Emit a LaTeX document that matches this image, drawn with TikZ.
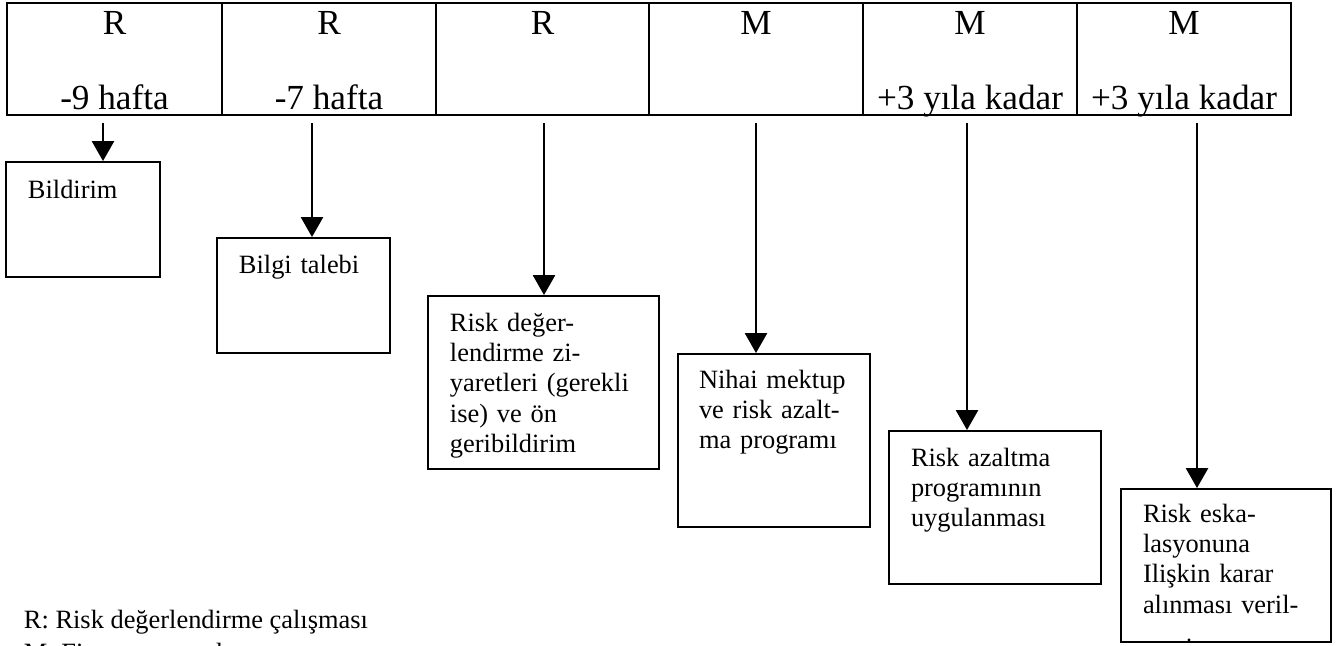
\documentclass[tikz,border=0pt]{standalone}
\usepackage{fontspec}
\setmainfont{Liberation Serif}
\usetikzlibrary{arrows.meta,fit}
\begin{document}
\begin{tikzpicture}[x=0.4545pt,y=-0.4545pt,
  line width=0.9pt,
  cellbox/.style={draw,inner sep=0pt,line width=1pt},
  stepbox/.style={draw,inner sep=0pt},
  headtxt/.style={anchor=base,inner sep=0pt,font=\fontsize{16}{18}\selectfont},
  boxtxt/.style={anchor=base west,inner sep=0pt,align=left,text width=110pt,font=\fontsize{12}{13.8}\selectfont},
  legtxt/.style={anchor=base west,inner sep=0pt,font=\fontsize{12}{13.8}\selectfont},
  arr/.style={-{Triangle[width=10pt,length=9pt]}}]
\useasboundingbox (0,0) rectangle (1343,645);

% table cells
\node[cellbox,fit={(7,3) (222,115)}] (c1) {};
\node[cellbox,fit={(222,3) (436,115)}] (c2) {};
\node[cellbox,fit={(436,3) (649,115)}] (c3) {};
\node[cellbox,fit={(649,3) (863,115)}] (c4) {};
\node[cellbox,fit={(863,3) (1077,115)}] (c5) {};
\node[cellbox,fit={(1077,3) (1291,115)}] (c6) {};

\node[headtxt] (h1) at (114.5,34) {R};
\node[headtxt] (h2) at (329,34) {R};
\node[headtxt] (h3) at (542.5,34) {R};
\node[headtxt] (h4) at (756,34) {M};
\node[headtxt] (h5) at (970,34) {M};
\node[headtxt] (h6) at (1184,34) {M};
\node[headtxt] (w1) at (114.5,109) {-9 hafta};
\node[headtxt] (w2) at (329,109) {-7 hafta};
\node[headtxt] (w5) at (970,109) {+3 yıla kadar};
\node[headtxt] (w6) at (1184,109) {+3 yıla kadar};

% boxes
\node[stepbox,fit={(6,162) (160,277)}] (b1) {};
\node[stepbox,fit={(217,238) (390,353)}] (b2) {};
\node[stepbox,fit={(428,296) (659,469)}] (b3) {};
\node[stepbox,fit={(678,354) (870,527)}] (b4) {};
\node[stepbox,fit={(889,431) (1101,584)}] (b5) {};
\node[stepbox,fit={(1121,489) (1331,642)}] (b6) {};

\node[boxtxt] (t1) at (27,198) {Bildirim};
\node[boxtxt] (t2) at (238,273) {Bilgi talebi};
\node[boxtxt] (t3) at (449,331) {Risk değer-\\lendirme zi-\\yaretleri (gerekli\\ise) ve ön\\geribildirim};
\node[boxtxt] (t4) at (698,388) {Nihai mektup\\ve risk azalt-\\ma programı};
\node[boxtxt] (t5) at (910,466) {Risk azaltma\\programının\\uygulanması};
\node[boxtxt] (t6) at (1142,522) {Risk eska-\\lasyonuna\\Ilişkin karar\\alınması veril-};
\begin{scope}
\clip (1121,489) rectangle (1331,641);
\node[boxtxt] (t6b) at (1142,656) {mesi};
\end{scope}

% connectors
\coordinate (s1) at (103,123);
\coordinate (s2) at (312,123);
\coordinate (s3) at (544,123);
\coordinate (s4) at (756,123);
\coordinate (s5) at (967,123);
\coordinate (s6) at (1197,123);
\draw[arr] (s1) -- (s1 |- b1.north);
\draw[arr] (s2) -- (s2 |- b2.north);
\draw[arr] (s3) -- (s3 |- b3.north);
\draw[arr] (s4) -- (s4 |- b4.north);
\draw[arr] (s5) -- (s5 |- b5.north);
\draw[arr] (s6) -- (s6 |- b6.north);

% legend
\node[legtxt] (l1) at (23,628) {R: Risk değerlendirme çalışması};
\node[legtxt] (l2) at (23,661) {M: Finansman mektup};
\end{tikzpicture}
\end{document}
